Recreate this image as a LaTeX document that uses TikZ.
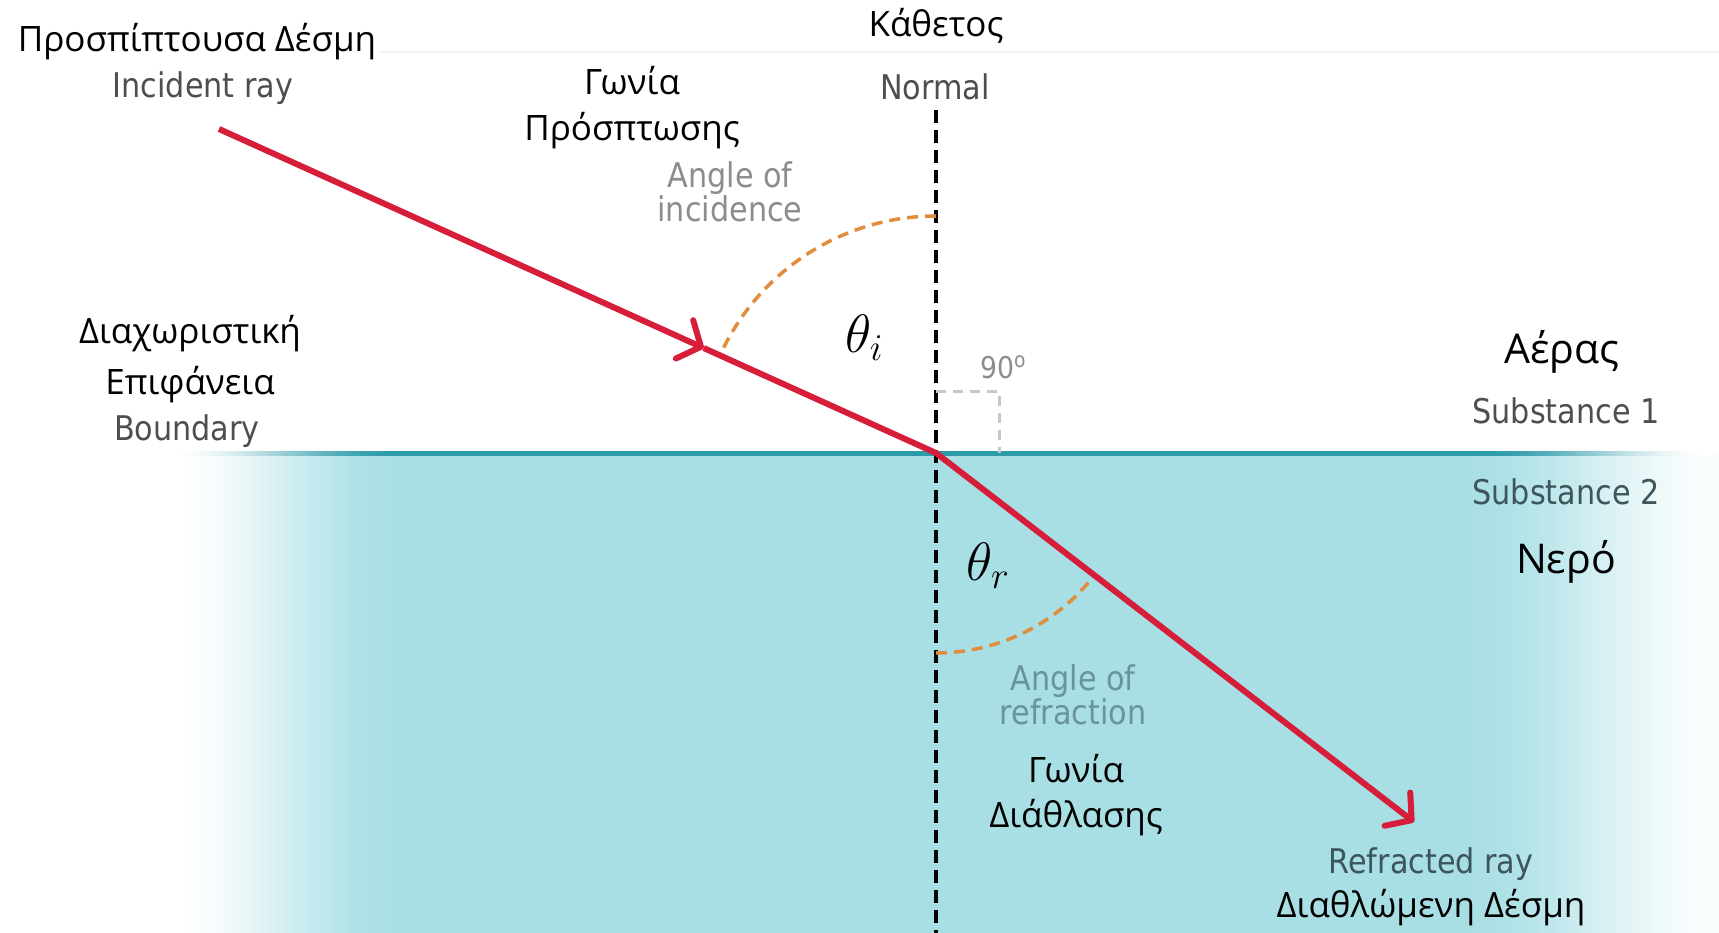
\RequirePackage{fix-cm}
\documentclass[tikz,border=0pt]{standalone}
\usepackage{fontspec}
\setmainfont{Open Sans}
\newfontfamily\tah{DejaVu Sans}[FakeStretch=0.89]
\usetikzlibrary{arrows.meta,calc}
\definecolor{water}{RGB}{168,223,229}
\definecolor{bline}{RGB}{45,155,170}
\definecolor{raycol}{RGB}{214,30,58}
\definecolor{arccol}{RGB}{226,140,62}
\definecolor{engdark}{RGB}{78,78,78}
\definecolor{englight}{RGB}{140,140,140}
\definecolor{engwater}{RGB}{105,148,156}
\definecolor{engwdark}{RGB}{60,86,92}
\tikzset{
  ray/.style={line width=6pt, draw=raycol},
  barb/.style={-{Straight Barb[length=18pt,width=42pt,round]}},
  normalline/.style={line width=4pt, draw=black, dash pattern=on 13pt off 7pt},
  anglearc/.style={line width=3.5pt, draw=arccol, dash pattern=on 11pt off 7pt},
  rightang/.style={line width=3pt, draw=black!22, dash pattern=on 10pt off 7pt},
  grk/.style={font=\fontsize{35}{46}\selectfont, text=black, align=center},
  grkbig/.style={font=\fontsize{41}{46}\selectfont, text=black, align=center},
  eng/.style={font=\tah\fontsize{34}{37}\selectfont, text=engdark, align=center},
  engl/.style={font=\tah\fontsize{34}{37}\selectfont, text=englight, align=center},
  engw/.style={font=\tah\fontsize{34}{37}\selectfont, text=engwater, align=center},
  engwd/.style={font=\tah\fontsize{34}{37}\selectfont, text=engwdark, align=center},
  theta/.style={font=\fontsize{54}{58}\selectfont, text=black}
}
\begin{document}
\begin{tikzpicture}[x=1pt,y=-1pt]
\useasboundingbox (0,0) rectangle (1719,933);
% faint top rule
\fill[black!4] (380,51) rectangle (1719,53);
% water
\fill[water] (399,453) rectangle (1462,933);
\foreach \i in {0,...,45} {
  \pgfmathsetmacro\t{(\i+0.5)/46}
  \pgfmathsetmacro\p{100*(3*\t*\t-2*\t*\t*\t)}
  \fill[water!\p!white] ({170+5*\i},453) rectangle ({175.8+5*\i},933);
  \fill[bline!\p!white] ({170+5*\i},450.5) rectangle ({175.8+5*\i},455.5);
}
\foreach \i in {0,...,51} {
  \pgfmathsetmacro\t{(\i+0.5)/52}
  \pgfmathsetmacro\p{100-94*(3*\t*\t-2*\t*\t*\t)}
  \fill[water!\p!white] ({1461+5*\i},453) rectangle ({1466.8+5*\i},933);
}
\fill[bline] (399,450.5) rectangle (1482,455.5);
\foreach \i in {0,...,45} {
  \pgfmathsetmacro\t{(\i+0.5)/46}
  \pgfmathsetmacro\p{100-100*(3*\t*\t-2*\t*\t*\t)}
  \fill[bline!\p!white] ({1481+5*\i},450.5) rectangle ({1486.8+5*\i},455.5);
}
% coordinates
\coordinate (S) at (219,129);
\coordinate (O) at (936,453);
\coordinate (E) at (1414,822);
\coordinate (A1) at ($(S)!0.676!(O)$);
\coordinate (A2) at ($(O)!0.397!(E)$);
\coordinate (N1) at (936,110);
\coordinate (N2) at (936,933);
\coordinate (R1) at (936,391);
\coordinate (R2) at (999,391);
\coordinate (R3) at (999,453);
% normal
\draw[normalline] (N1) -- (N2);
% right angle
\draw[rightang] (R1) -- (R2) -- (R3);
% angle arcs
\draw[anglearc] (O) ++(0,-237) arc[start angle=-90, end angle=-155.7, radius=237];
\draw[anglearc] (O) ++(0,200) arc[start angle=90, end angle=40, radius=200];
% rays
\draw[ray,barb] (S) -- (A1);
\draw[ray] (A1) -- (O) -- (A2);
\draw[ray,barb] (A2) -- (E);
% texts
\node[grk] (t1) at (197,42) {Προσπίπτουσα Δέσμη};
\node[eng] (t2) at (203,88) {Incident ray};
\node[grk] (t3) at (632,81) {Γωνία};
\node[grk] (t4) at (632,131) {Πρόσπτωσης};
\node[engl] (t5) at (730,192) {Angle of\\[-3pt]incidence};
\node[grk] (t6) at (936,26) {Κάθετος};
\node[eng] (t7) at (935,87) {Normal};
\node[theta] (t8) at (864,338) {$\theta_i$};
\node[font=\tah\fontsize{30}{32}\selectfont, text=black!45] (t9) at (1003,367) {90\textsuperscript{o}};
\node[grk] (t10) at (190,334) {Διαχωριστική};
\node[grk] (t11) at (190,385) {Επιφάνεια};
\node[eng] (t12) at (187,431) {Boundary};
\node[grkbig] (t13) at (1562,352) {Αέρας};
\node[eng] (t14) at (1566,411) {Substance 1};
\node[engwd] (t15) at (1566,492) {Substance 2};
\node[grkbig] (t16) at (1566,562) {Νερό};
\node[theta] (t17) at (988,566) {$\theta_r$};
\node[engw] (t18) at (1073,695) {Angle of\\[-3pt]refraction};
\node[grk] (t19) at (1076,769) {Γωνία};
\node[grk] (t20) at (1076,818) {Διάθλασης};
\node[engwd] (t21) at (1431,864) {Refracted ray};
\node[grk] (t22) at (1431,908) {Διαθλώμενη Δέσμη};
\end{tikzpicture}
\end{document}
